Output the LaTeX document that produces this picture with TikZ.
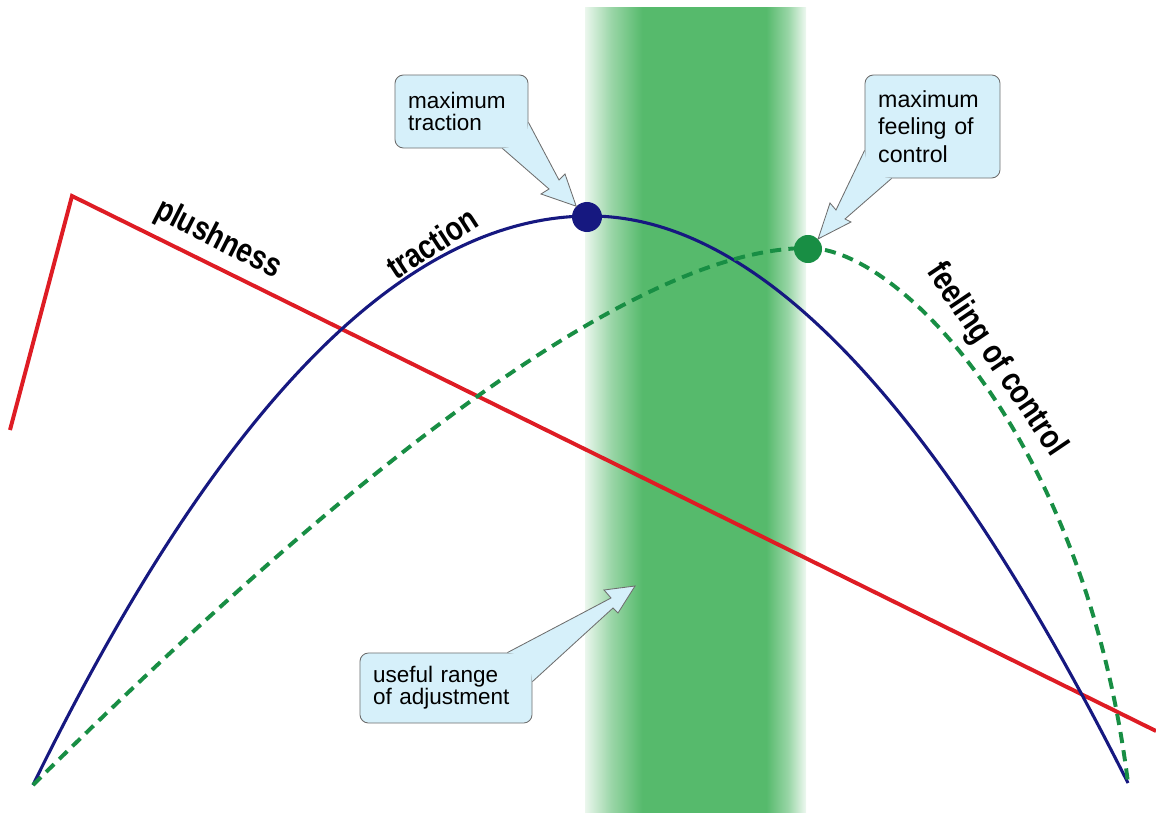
\documentclass[tikz,border=0pt]{standalone}
\usepackage{fontspec}
\setmainfont{Liberation Sans}
\newfontfamily\curvefont[FakeStretch=0.82]{Liberation Sans}
\usepackage{tikz}
\usepackage{xcolor}
\definecolor{plushred}{RGB}{222,28,36}
\definecolor{tracblue}{RGB}{22,24,128}
\definecolor{ctrlgreen}{RGB}{24,142,68}
\definecolor{bandgreen}{RGB}{86,186,108}
\definecolor{calloutfill}{RGB}{214,240,250}
\definecolor{calloutline}{RGB}{110,110,110}
\pgfdeclarehorizontalshading{bandfade}{100bp}{color(0bp)=(white);
    color(25bp)=(bandgreen!12!white); color(31bp)=(bandgreen!60!white); color(38bp)=(bandgreen);
    color(66bp)=(bandgreen); color(71bp)=(bandgreen!60!white); color(75bp)=(bandgreen!10!white);
    color(100bp)=(white)}
\tikzset{
    callout/.style={draw=calloutline, line width=0.6pt, fill=calloutfill, rounded corners=6pt,
        align=left, inner xsep=0.33cm, inner ysep=0pt, font=\fontsize{16}{15.5}\selectfont},
    tail/.style={draw=calloutline, line width=0.6pt, line join=miter},
    curvelabel/.style={font=\curvefont\bfseries\fontsize{24}{24}\selectfont, inner sep=0pt},
    curvedot/.style={circle, inner sep=0pt, minimum size=0.75cm}
}

\begin{document}
\begin{tikzpicture}[x=0.025cm, y=-0.025cm]
            \useasboundingbox (0,0) rectangle (1156,813);
            % useful range band
            \fill[shading=bandfade] (585,8) rectangle (806,813);

            % curves
            \draw[plushred, line width=2.8pt, line join=miter] (10,430) -- (72,196) -- (1156,731);
            \draw[tracblue, line width=2.2pt] (33,785) .. controls (218.7,405.7) and (404.3,216) .. (590,216)
                .. controls (769,216) and (949,427.5) .. (1128,783);
            \draw[ctrlgreen, line width=2.8pt, dash pattern=on 0.28cm off 0.18cm]
                (33,785) .. controls (250,570) and (600,248) .. (808,248)
                .. controls (900,248) and (1085,440) .. (1128,783);

            \node[curvedot, fill=tracblue] (tracdot) at (587,217) {};
            \node[curvedot, fill=ctrlgreen, minimum size=0.7cm] (ctrldot) at (808,249) {};

            \node[curvelabel, rotate=-27] (plushlbl) at (218,240) {plushness};
            \node[curvelabel, rotate=33] (traclbl) at (432,243) {traction};
            \node[curvelabel, rotate=-56] (ctrllbl) at (996,360) {feeling of control};

            % callouts
            \node[callout, text width=2.665cm, minimum height=1.825cm] (tracbox) at (461.5,111.5)
                {maximum\\traction};
            \fill[calloutfill] ([xshift=-0.65cm]tracbox.south east) -- (549,189) -- (541,194)
                -- (tracdot.north west) -- (565,174) -- (559,180) -- ([yshift=0.65cm]tracbox.south east)
                -- ([shift={(-0.1cm,0.1cm)}]tracbox.south east) -- cycle;
            \draw[tail] ([xshift=-0.65cm]tracbox.south east) -- (549,189) -- (541,194)
                -- (tracdot.north west) -- (565,174) -- (559,180) -- ([yshift=0.65cm]tracbox.south east);

            \node[callout, text width=2.715cm, minimum height=2.575cm,
                font=\fontsize{16.5}{19.5}\selectfont] (ctrlbox) at (932.5,126.5)
                {maximum\\feeling of\\control};
            \fill[calloutfill] ([yshift=0.7cm]ctrlbox.south west) -- (836,210) -- (830,203)
                -- (ctrldot.north east) -- (851,222) -- (845,219) -- ([xshift=0.675cm]ctrlbox.south west)
                -- ([shift={(0.1cm,0.1cm)}]ctrlbox.south west) -- cycle;
            \draw[tail] ([yshift=0.7cm]ctrlbox.south west) -- (836,210) -- (830,203)
                -- (ctrldot.north east) -- (851,222) -- (845,219) -- ([xshift=0.675cm]ctrlbox.south west);

            \coordinate (bandtip) at (635,586);
            \node[callout, text width=3.64cm, minimum height=1.75cm] (usebox) at (446,688)
                {useful range\\of adjustment};
            \fill[calloutfill] ([xshift=-0.625cm]usebox.north east) -- (611,598) -- (604,590)
                -- (bandtip) -- (618,613) -- (613,608) -- ([yshift=-0.725cm]usebox.north east)
                -- ([shift={(-0.1cm,-0.1cm)}]usebox.north east) -- cycle;
            \draw[tail] ([xshift=-0.625cm]usebox.north east) -- (611,598) -- (604,590)
                -- (bandtip) -- (618,613) -- (613,608) -- ([yshift=-0.725cm]usebox.north east);
        \end{tikzpicture}
\end{document}
